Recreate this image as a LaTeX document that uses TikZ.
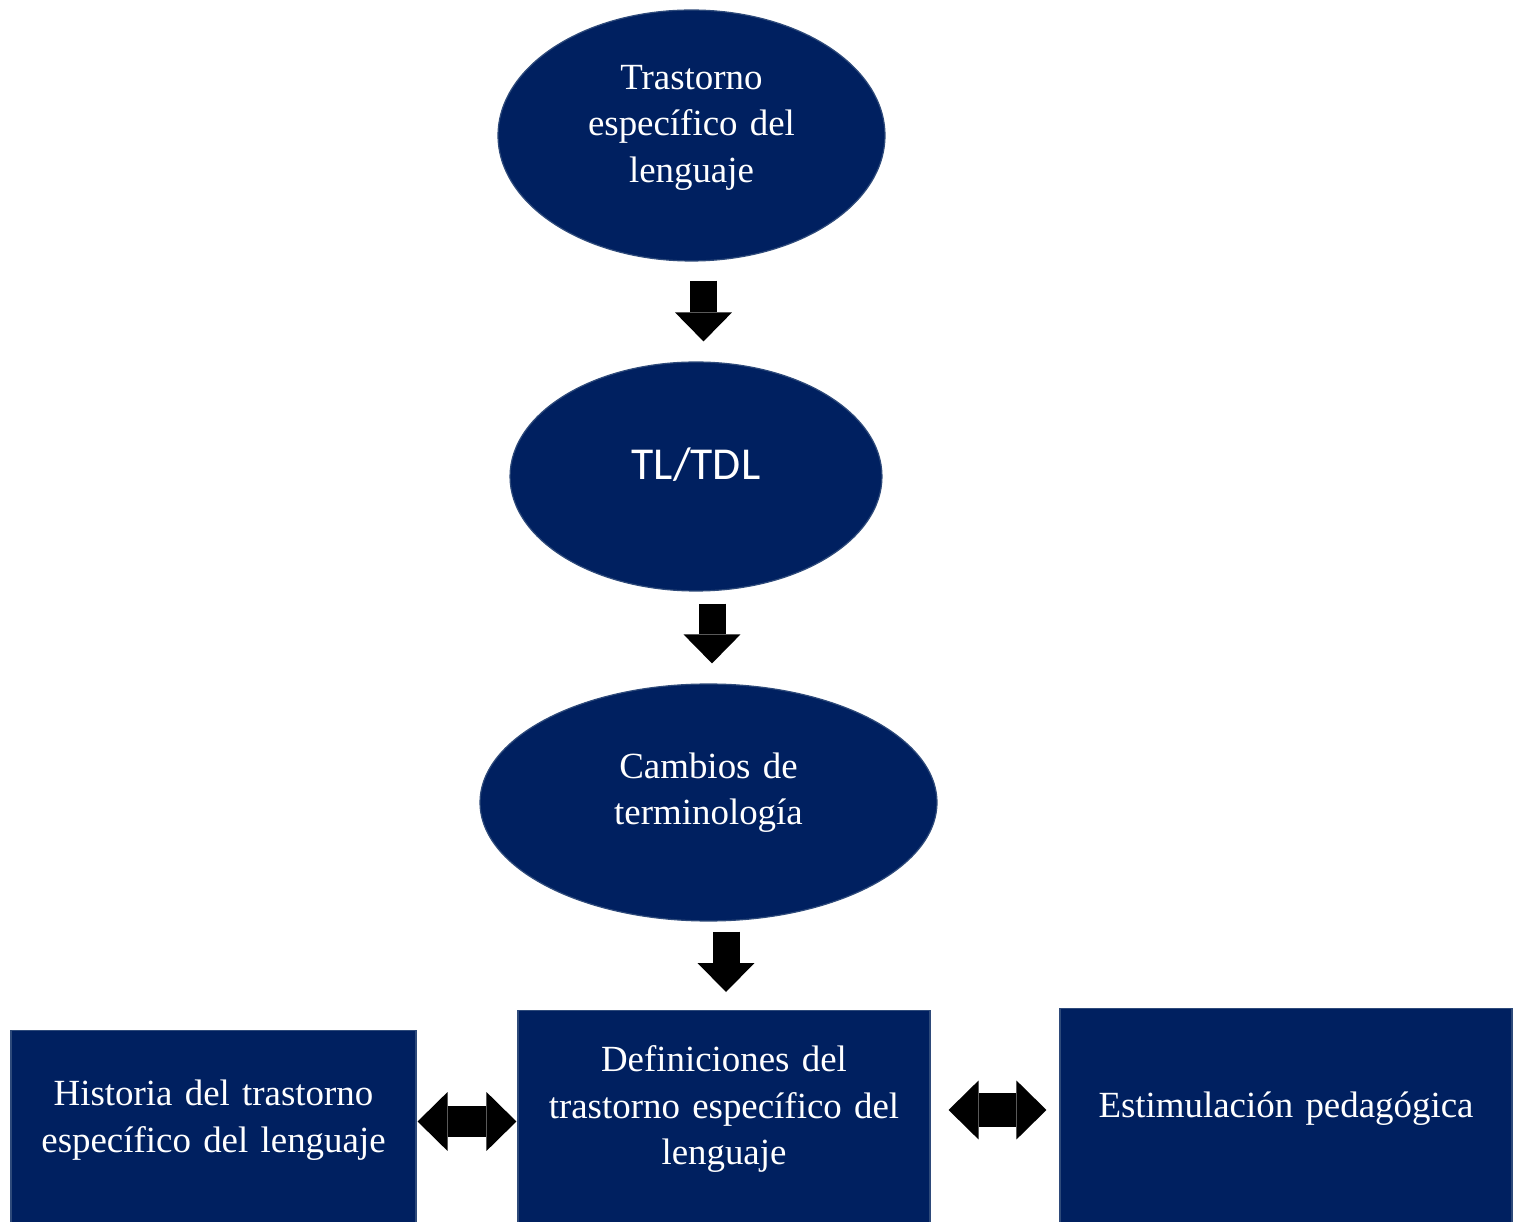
\documentclass[tikz,border=0pt]{standalone}
\usepackage{fontspec}
\setmainfont{Liberation Serif}
\newfontfamily\calib{Carlito}
\usetikzlibrary{shapes.geometric,arrows.meta}
\definecolor{navy}{HTML}{002060}
\definecolor{navyedge}{HTML}{2E4A7A}
\begin{document}
\begin{tikzpicture}[x=0.02cm,y=-0.02cm,
		bubble/.style={ellipse, fill=navy, draw=navyedge, line width=0.7pt, text=white, inner sep=0pt, align=center},
		panel/.style={rectangle, fill=navy, draw=navyedge, line width=0.7pt, text=white, inner sep=0pt, align=center, anchor=north, text depth=5cm},
		down/.style={line width=0.54cm, -{Triangle[length=0.58cm, width=1.14cm, line width=0pt]}},
		both/.style={line width=#1, {Triangle[length=0.6cm, width=1.18cm, line width=0pt]}-{Triangle[length=0.6cm, width=1.18cm, line width=0pt]}}]
				\clip (0, 0) rectangle (1519, 1222);
				\useasboundingbox (0, 0) rectangle (1519, 1222);
				\fontsize{21}{26.5}\selectfont

				%%the three ellipses
				\node[bubble, minimum width=7.74cm, minimum height=5.02cm, text width=4.4cm, text height=0.6cm, text depth=2.46cm] (tel) at (691.5, 135.5)
					{Trastorno\\específico del\\lenguaje};
				\node[bubble, minimum width=7.44cm, minimum height=4.58cm, text width=3cm, text height=0.8cm, text depth=0.66cm] (tdl) at (696, 476.5)
					{\calib\fontsize{26}{30}\selectfont TL/TDL};
				\node[bubble, minimum width=9.14cm, minimum height=4.74cm, text width=4.2cm, text height=0.6cm, text depth=1.58cm] (cambios) at (708.5, 802.5)
					{Cambios de\\terminología};

				%%the three boxes, running off the bottom
				\node[panel, minimum width=8.1cm, text width=7.6cm, text height=1.5cm] (historia) at (213.5, 1030)
					{Historia del trastorno\\específico del lenguaje};
				\node[panel, minimum width=8.24cm, text width=7.8cm, text height=1.22cm] (defs) at (724, 1010)
					{Definiciones del\\trastorno específico del\\lenguaje};
				\node[panel, minimum width=9.04cm, text width=8.6cm, text height=2.18cm] (estim) at (1286, 1008)
					{Estimulación pedagógica};

				%%arrows down
				\draw[down, shorten <=0.38cm, shorten >=0.4cm] ([xshift=0.24cm]tel.south) -- ([xshift=0.24cm]tel.south |- tdl.north);
				\draw[down, shorten <=0.24cm, shorten >=0.4cm] ([xshift=0.32cm]tdl.south) -- ([xshift=0.32cm]tdl.south |- cambios.north);
				\draw[down, shorten <=0.2cm, shorten >=0.36cm] ([xshift=0.35cm]cambios.south) -- ([xshift=0.35cm]cambios.south |- defs.north);

				%%arrows both ways
				\coordinate (lmid) at (467, 1121.5);
				\coordinate (rmid) at (997.5, 1110);
				\draw[both=0.62cm, shorten <=0.02cm, shorten >=0.02cm] (historia.east |- lmid) -- (defs.west |- lmid);
				\draw[both=0.7cm, shorten <=0.36cm, shorten >=0.26cm] (defs.east |- rmid) -- (estim.west |- rmid);
			\end{tikzpicture}
\end{document}
